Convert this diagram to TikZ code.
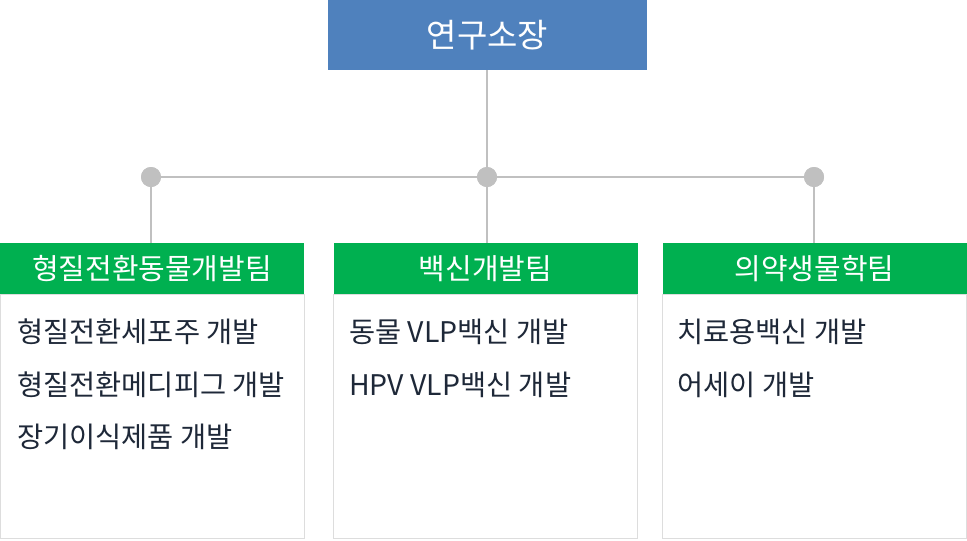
\documentclass[tikz,border=0pt]{standalone}
\usepackage{fontspec}
\setmainfont{Noto Sans CJK KR}
\usetikzlibrary{positioning}
\definecolor{chiefblue}{HTML}{4F81BD}
\definecolor{teamgreen}{HTML}{00B050}
\definecolor{linegray}{HTML}{C0C0C0}
\definecolor{framegray}{HTML}{DDDDDD}
\definecolor{itemtext}{HTML}{1E2838}
\tikzset{
	chief/.style={fill=chiefblue,text=white,inner sep=0pt,minimum width=239.25pt,minimum height=52.5pt,font=\fontsize{24.75}{29}\selectfont},
	team/.style={fill=teamgreen,text=white,inner sep=0pt,minimum width=228pt,minimum height=38.25pt,font=\fontsize{21.7}{26}\selectfont},
	teambody/.style={draw=framegray,line width=0.75pt,fill=white,inner sep=0pt,minimum width=228pt,minimum height=183pt},
	hubdot/.style={circle,fill=linegray,inner sep=0pt,minimum size=15pt},
	link/.style={draw=linegray,line width=1.5pt},
	item/.style={anchor=west,text=itemtext,inner sep=0pt,font=\fontsize{21.3}{25}\selectfont}
}
\begin{document}
\begin{tikzpicture}[x=0.75pt,y=-0.75pt]
			\useasboundingbox (0,0) rectangle (967,540);
			% bodies first, headers on top
			\node[teambody] (bodyA) at (152,416) {};
			\node[teambody] (bodyB) at (485.5,416) {};
			\node[teambody] (bodyC) at (814.5,416) {};
			\node[team] (teamA) at (152,268.5) {형질전환동물개발팀};
			\node[team] (teamB) at (485.5,268.5) {백신개발팀};
			\node[team] (teamC) at (814.5,268.5) {의약생물학팀};
			\node[chief] (chief) at (487.5,35) {연구소장};
			% tree lines
			\node[hubdot] (dotA) at (151,177) {};
			\node[hubdot] (hub) at (487,177) {};
			\node[hubdot] (dotC) at (814,177) {};
			\path[link] (hub |- chief.south) -- (hub.center);
			\path[link] (dotA.center) -- (dotC.center);
			\path[link] (dotA.center) -- (dotA |- teamA.north);
			\path[link] (hub.center) -- (hub |- teamB.north);
			\path[link] (dotC.center) -- (dotC |- teamC.north);
			\node[hubdot] at (dotA) {};
			\node[hubdot] at (hub) {};
			\node[hubdot] at (dotC) {};
			% tasks
			\node[item] (a1) at (17,332) {형질전환세포주 개발};
			\node[item] (a2) at (17,384.5) {형질전환메디피그 개발};
			\node[item] (a3) at (17,437) {장기이식제품 개발};
			\node[item] (b1) at (349,332) {동물 VLP백신 개발};
			\node[item] (b2) at (349,384.5) {HPV VLP백신 개발};
			\node[item] (c1) at (677,332) {치료용백신 개발};
			\node[item] (c2) at (677,384.5) {어세이 개발};
\end{tikzpicture}
\end{document}
